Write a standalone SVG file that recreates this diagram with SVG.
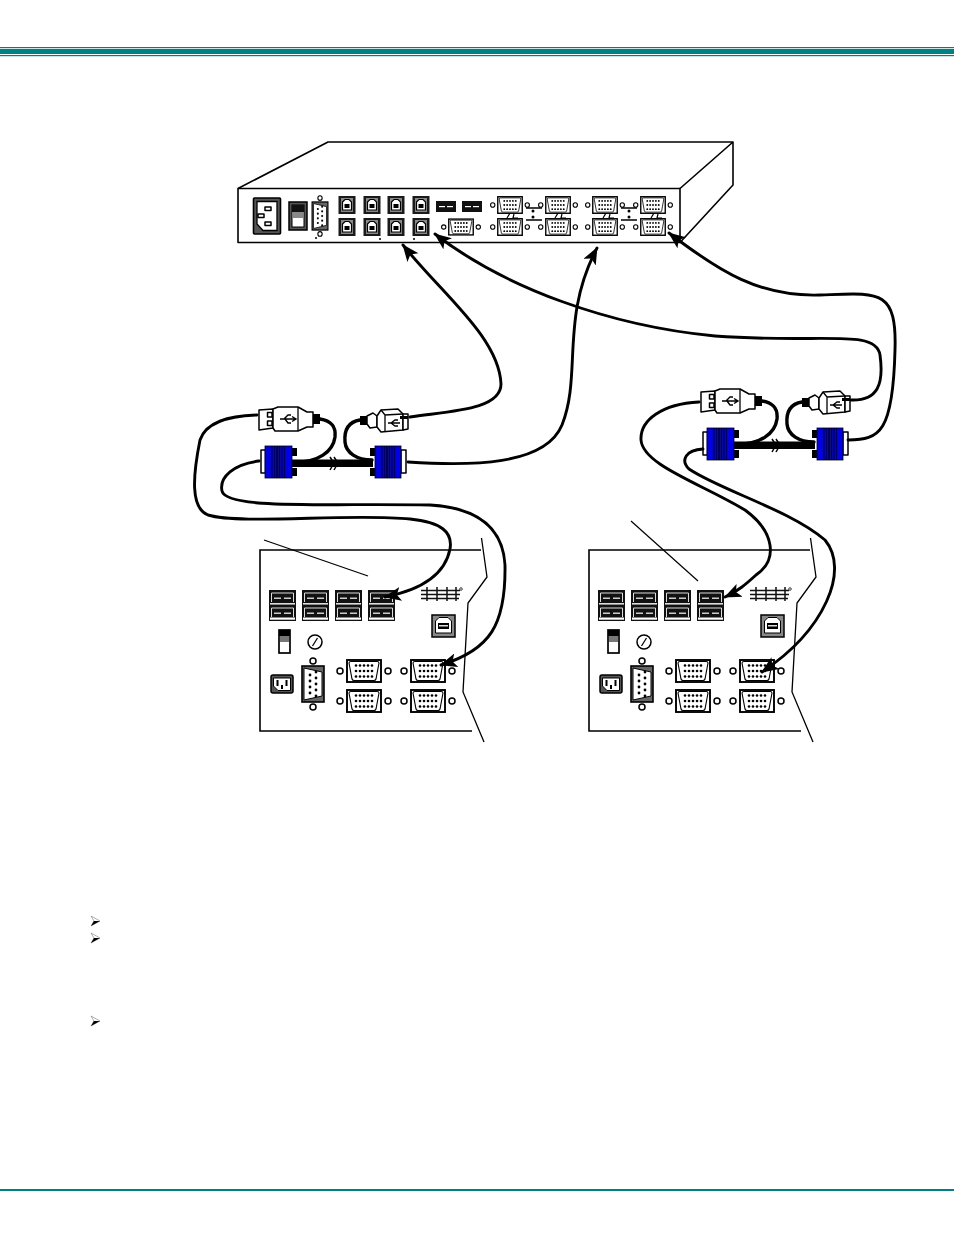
<svg xmlns="http://www.w3.org/2000/svg" width="954" height="1235" viewBox="0 0 954 1235">
<style>
.o{fill:#fff;stroke:#000;stroke-width:1.5;stroke-linejoin:round}
.t{fill:none;stroke:#000;stroke-width:1.3}
.k{fill:#000}
.b{fill:#0000f0;stroke:#000;stroke-width:.8}
.cable{fill:none;stroke:#000;stroke-width:2.9;stroke-linecap:round;stroke-linejoin:round}
.cord{fill:none;stroke:#000;stroke-width:3.4;stroke-linecap:round}
.arrow{marker-end:url(#ah)}
.teal{fill:#008080}
</style>
<defs>
<marker id="ah" markerUnits="userSpaceOnUse" markerWidth="20" markerHeight="16" refX="16" refY="7" orient="auto"><path d="M0,0 L17,7 L0,14 L4,7 Z" fill="#000"/></marker>
<g id="vga">
<circle cx="-24" cy="0" r="3" class="o"/><circle cx="24" cy="0" r="3" class="o"/>
<rect x="-17" y="-11" width="34" height="22" fill="#fff" stroke="#000" stroke-width="1.900"/>
<path d="M-15,-8 Q-15,-9.500 -13,-9.500 L13,-9.500 Q15,-9.500 15,-8 L12,8 Q11.500,9.500 10,9.500 L-10,9.500 Q-11.500,9.500 -12,8 Z" fill="#fff" stroke="#000" stroke-width="1.100"/>
<g class="k"><circle cx="-8" cy="-5.500" r="1.300"/><circle cx="-4" cy="-5.500" r="1.300"/><circle cx="0" cy="-5.500" r="1.300"/><circle cx="4" cy="-5.500" r="1.300"/><circle cx="8" cy="-5.500" r="1.300"/><circle cx="-8" cy="0" r="1.300"/><circle cx="-4" cy="0" r="1.300"/><circle cx="0" cy="0" r="1.300"/><circle cx="4" cy="0" r="1.300"/><circle cx="8" cy="0" r="1.300"/><circle cx="-8" cy="5.500" r="1.300"/><circle cx="-4" cy="5.500" r="1.300"/><circle cx="0" cy="5.500" r="1.300"/><circle cx="4" cy="5.500" r="1.300"/><circle cx="8" cy="5.500" r="1.300"/></g>
</g>
<g id="serial">
<circle cx="0" cy="-23" r="3" class="o"/><circle cx="0" cy="23" r="3" class="o"/>
<rect x="-11" y="-18" width="22" height="36" fill="#666" stroke="#000" stroke-width="1.600"/>
<path d="M-9,-16 L9,-12 L9,12 L-9,16 Z" fill="#fff" stroke="#000" stroke-width="1"/>
<g class="k"><circle cx="-3" cy="-9" r="1.400"/><circle cx="-3" cy="-3" r="1.400"/><circle cx="-3" cy="3" r="1.400"/><circle cx="-3" cy="9" r="1.400"/><circle cx="3" cy="-12" r="1.400"/><circle cx="3" cy="-6" r="1.400"/><circle cx="3" cy="0" r="1.400"/><circle cx="3" cy="6" r="1.400"/><circle cx="3" cy="12" r="1.400"/></g>
</g>
<g id="usbstack">
<rect x="0" y="0" width="27" height="31" fill="#111"/>
<path d="M2.500,3 H24.500 M2.500,3 V12 M24.500,3 V12 M2.500,18 H24.500 M2.500,18 V27 M24.500,18 V27" stroke="#ddd" stroke-width="1" fill="none"/>
<rect x="1" y="13" width="25" height="1.600" fill="#ddd"/><rect x="1" y="27.500" width="25" height="2.200" fill="#fff"/>
<rect x="5" y="7.500" width="7" height="1.500" fill="#ccc"/><rect x="15" y="7.500" width="7" height="1.500" fill="#ccc"/>
<rect x="5" y="22.500" width="7" height="1.500" fill="#ccc"/><rect x="15" y="22.500" width="7" height="1.500" fill="#ccc"/>
</g>
<g id="usbb">
<rect x="-8.500" y="-9" width="17" height="18" fill="#1a1a1a"/>
<path d="M-6,-7 H6 V7 H-6 Z" fill="#888"/>
<path d="M-4.500,-3 L-2,-5.500 H2 L4.500,-3 V5 H-4.500 Z" fill="#fff" stroke="#000" stroke-width="1.200"/>
<rect x="-2.500" y="-1" width="5" height="4" class="k"/>
</g>
<g id="usbh"><rect x="0" y="0" width="20" height="11" fill="#111"/><rect x="3" y="5" width="6" height="1.200" fill="#fff"/><rect x="11" y="5" width="6" height="1.200" fill="#fff"/></g>
<g id="power">
<rect x="-13.500" y="-18" width="27" height="36" rx="1" fill="#555" stroke="#000" stroke-width="1.600"/>
<path d="M-10,-14.500 H10 V14.500 H-4 L-10,8 V-8 Z" fill="#fff" stroke="#000" stroke-width="1.300"/>
<rect x="-2" y="-9" width="6" height="3.500" class="o" stroke-width="1.200"/><rect x="-9" y="-2" width="6" height="3.500" class="o"/><rect x="-2" y="6" width="6" height="3.500" class="o"/>
</g>
<g id="panelparts">
<use href="#usbstack" x="269" y="590"/><use href="#usbstack" x="302" y="590"/><use href="#usbstack" x="335" y="590"/><use href="#usbstack" x="368" y="590"/>
<g fill="none" stroke="#111"><path d="M421,590.500 H460 M421,594.500 H460 M421,598.500 H459" stroke-width="1.500"/><path d="M427,587 V601 M437,587 V601 M447,587 V601 M456,587 V601" stroke-width="1.500"/><circle cx="461" cy="589" r="1.300" stroke-width=".8"/></g>
<rect x="432" y="615" width="23" height="22" fill="#888" stroke="#000" stroke-width="1.500"/>
<path d="M435.500,630 V621 L439,617.500 H448 L451.500,621 V633 H435.500 Z" fill="#fff" stroke="#000" stroke-width="1"/><rect x="438" y="623" width="11" height="6" class="k"/><rect x="439" y="625" width="9" height="1.500" fill="#ddd"/>
<rect x="279" y="630" width="11" height="23" fill="#fff" stroke="#000" stroke-width="1.700"/><rect x="279" y="630" width="11" height="6" fill="#000"/><rect x="280" y="636" width="9" height="6" fill="#777"/>
<circle cx="315" cy="642" r="7" class="o"/><path d="M312.500,646 L317.500,638" class="t"/>
<rect x="271" y="675" width="22" height="18" rx="2" fill="#555" stroke="#000" stroke-width="1.500"/>
<path d="M273.500,678 H290.500 V690.500 H278 L273.500,686 Z" fill="#fff" stroke="#000" stroke-width="1"/><rect x="276.500" y="680" width="2" height="6" class="k"/><rect x="285.500" y="680" width="2" height="6" class="k"/><rect x="281" y="685" width="2" height="4" class="k"/>
<use href="#serial" transform="translate(313,684)"/>
<use href="#vga" x="364" y="671"/><use href="#vga" x="364" y="701"/><use href="#vga" x="428" y="671"/><use href="#vga" x="428" y="701"/>
<path d="M481,550 H260 V731 H472" fill="none" stroke="#000" stroke-width="1.600"/>
<path d="M481.500,538 L487,577 L468,603 L463,692 L484,742" fill="none" stroke="#000" stroke-width="1.300"/>
</g>
<g id="assembly">
<rect x="261" y="450" width="4.500" height="23" class="o"/>
<rect x="401" y="450" width="5" height="23" class="o"/>
<rect x="291" y="448" width="6" height="8" class="k"/><rect x="291" y="468" width="6" height="8" class="k"/>
<rect x="370" y="448" width="6" height="8" class="k"/><rect x="370" y="468" width="6" height="8" class="k"/>
<rect x="292" y="459.500" width="81" height="7.500" class="k"/>
<path d="M330,457 L334,463 L330,470 M334,457 L338,463 L334,470" fill="none" stroke="#000" stroke-width="1.500"/>
<rect x="265" y="446" width="27" height="32" class="b"/>
<rect x="375" y="446" width="26" height="32" class="b"/>
<path d="M272,446 V478 M274.500,446 V478 M277,446 V478 M279.500,446 V478 M282,446 V478 M284.500,446 V478 M382,446 V478 M384.500,446 V478 M387,446 V478 M389.500,446 V478 M392,446 V478 M394.500,446 V478" stroke="#000" stroke-width="1.200"/>
<path d="M259,410 L273,409 V428 L259,430 Z" class="o"/>
<rect x="267.500" y="412.500" width="4.500" height="4.500" class="o"/><rect x="267.500" y="421" width="4.500" height="4.500" class="o"/>
<path d="M273,409 L278,407 H298 L307,412 H313 V427 H307 L298,431 H275 L273,428 Z" class="o"/>
<path d="M298,407 V431" class="t"/>
<rect x="313" y="414" width="7" height="10" class="k"/>
<path d="M280,419 H296 M292,416.500 L296,419 L292,421.500 M284,419 L288,415 H291 M285,419 L288,423 H291" fill="none" stroke="#000" stroke-width="1.400"/>
<path d="M367,416 L373,413 L377,416 V427 L370,428 L367,424 Z" class="o"/>
<path d="M377,416 L381,410 L398,409 L403,414 V430 L381,432 L377,427 Z" class="o"/>
<path d="M381,410 L385,415 L403,414 M385,415 V432" class="t"/>
<path d="M403,414 H408 V429 L403,430 Z" class="o"/><rect x="400" y="416" width="8" height="3" class="k"/>
<rect x="360" y="416" width="7" height="9" class="k"/>
<path d="M388,423 H400 M391,423 L395,420 H398 M391,423 L395,426 H398" fill="none" stroke="#000" stroke-width="1.300"/>
</g>
<g id="bul"><path d="M-4,-5 L5,0 L-4,5 L-1,0 Z" fill="#fff" stroke="#777" stroke-width=".6"/><path d="M5,0 L-4,5 L-1,0 Z" class="k"/></g>
</defs>

<g id="header-rule"><rect class="teal" x="0" y="47" width="954" height="1.200"/><rect class="teal" x="0" y="49" width="954" height="5"/><rect class="teal" x="0" y="55" width="954" height="1.200"/></g>
<rect id="footer-rule" class="teal" x="0" y="1189" width="954" height="2"/>

<g id="device">
<path d="M238,188.500 L328,142 H733 V185 L680,242.500 H238 Z M680,188.500 L733,142" fill="#fff" stroke="#000" stroke-width="1.600" stroke-linejoin="round"/>
<path d="M238,188.500 H680 V242.500" fill="none" stroke="#000" stroke-width="1.600"/>
<use href="#power" transform="translate(267,216)"/>
<rect x="289" y="202" width="18" height="28" fill="#555" stroke="#000" stroke-width="1.500"/><rect x="292" y="205" width="12" height="22" fill="#fff" stroke="#000" stroke-width="1"/><rect x="292" y="205" width="12" height="7" fill="#111"/><rect x="293" y="212" width="10" height="6" fill="#888"/>
<use href="#serial" transform="translate(320,216) scale(.72 .78)"/>
<use href="#usbb" x="347" y="205"/><use href="#usbb" x="372" y="205"/><use href="#usbb" x="396" y="205"/><use href="#usbb" x="421" y="205"/>
<use href="#usbb" x="347" y="227"/><use href="#usbb" x="372" y="227"/><use href="#usbb" x="396" y="227"/><use href="#usbb" x="421" y="227"/>
<use href="#usbh" x="436" y="201"/><use href="#usbh" x="462" y="201"/>
<use href="#vga" transform="translate(461,227) scale(.72 .72)"/>
<path d="M526,208 H542 M526,220 H542 M621,208 H637 M621,220 H637" stroke="#000" stroke-width="1.600" fill="none"/>
<g class="k"><circle cx="533" cy="211" r="1.500"/><circle cx="533" cy="217" r="1.500"/><circle cx="629" cy="211" r="1.500"/><circle cx="629" cy="217" r="1.500"/><circle cx="316" cy="238" r="1"/><circle cx="380" cy="239" r="1"/><circle cx="414" cy="239" r="1"/></g>
<path d="M505,213 H510 L507,218 M514,214 L513,218 H518 M553,213 H558 L555,218 M562,214 L561,218 H566 M601,213 H606 L603,218 M610,214 L609,218 H614 M649,213 H654 L651,218 M658,214 L657,218 H662" fill="none" stroke="#000" stroke-width="1.200"/>
<use href="#vga" transform="translate(510,205) scale(.72 .75)"/><use href="#vga" transform="translate(558,205) scale(.72 .75)"/><use href="#vga" transform="translate(605,205) scale(.72 .75)"/><use href="#vga" transform="translate(653,205) scale(.72 .75)"/>
<use href="#vga" transform="translate(510,227) scale(.72 .75)"/><use href="#vga" transform="translate(558,227) scale(.72 .75)"/><use href="#vga" transform="translate(605,227) scale(.72 .75)"/><use href="#vga" transform="translate(653,227) scale(.72 .75)"/>
</g>

<g id="panel-left"><use href="#panelparts"/></g>
<g id="panel-right"><use href="#panelparts" x="329"/></g>
<g id="cable-assembly-left"><use href="#assembly"/></g>
<g id="cable-assembly-right"><use href="#assembly" x="442" y="-18"/></g>

<g id="label-lines" fill="none" stroke="#000" stroke-width="1.200"><path d="M264,540 L368,576"/><path d="M631,521 L698,581"/></g>

<g id="connectors">
<g class="cord">
<path d="M320,419 C332,421 336,427 335,437 C333,452 318,462 296,462"/>
<path d="M360,420 C348,422 344,430 345,442 C346,453 357,460 372,460"/>
<path d="M762,401 C774,403 778,409 777,419 C775,434 760,444 738,444"/>
<path d="M802,402 C790,404 786,412 787,424 C788,435 799,442 814,442"/>
</g>
<g class="cable">
<path class="arrow" d="M410,417 C450,411 501,410 501,384 C499,337 440,292 403,245"/>
<path class="arrow" d="M408,462 C470,466 545,466 562,425 C582,375 560,318 597,248"/>
<path class="arrow" d="M851,400 C878,401 884,384 880,355 C876,328 820,344 715,336 C610,326 505,288 435,234"/>
<path class="arrow" d="M848,440 C880,440 893,432 895,350 C897,288 878,293 820,295 C760,297 720,272 669,233"/>
<path class="arrow" d="M257,415 C228,416 206,422 200,440 C193,475 190,508 208,515 C240,525 350,513 410,519 C441,522 453,532 450,549 C445,575 420,590 385,597"/>
<path class="arrow" d="M259,461 C234,464 219,477 222,491 C226,510 330,503 430,505 C480,508 503,530 505,565 C506,625 490,650 441,665"/>
<path class="arrow" d="M699,402 C662,404 640,420 641,440 C643,465 700,483 745,510 C775,532 778,560 756,575 C745,585 738,591 725,597"/>
<path class="arrow" d="M703,449 C686,450 680,460 689,469 C720,490 790,510 825,540 C850,570 825,630 762,672"/>
</g>
</g>

<g id="bullets"><use href="#bul" x="95" y="921"/><use href="#bul" x="95" y="938"/><use href="#bul" x="95" y="1021"/></g>
</svg>
